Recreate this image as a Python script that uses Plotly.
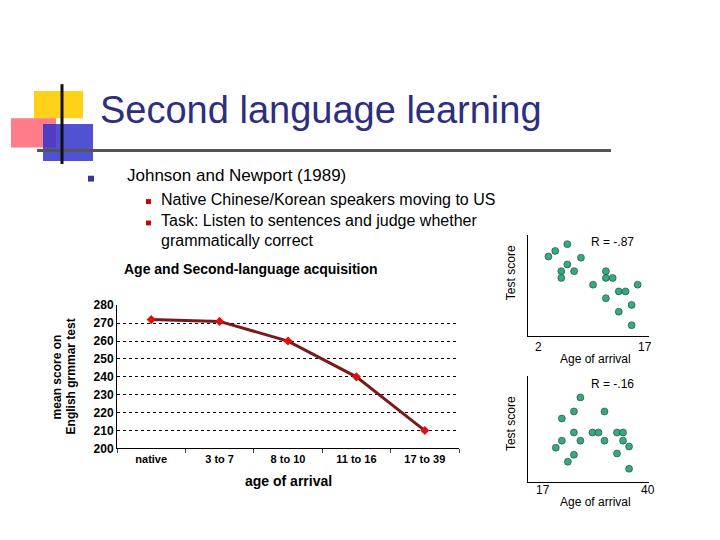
import plotly.graph_objects as go

W, H = 720, 540

# main chart data
groups = ["native", "3 to 7", "8 to 10", "11 to 16", "17 to 39"]
mean_scores = [272, 271, 260, 240, 210]

# scatter: arrivals 3-15
early_age = [3.7, 4.6, 6.2, 8.0, 5.4, 6.2, 7.1, 5.4, 9.6, 11.3, 11.3, 12.2, 11.3, 13.0, 13.9, 15.5, 14.7, 13.0, 14.7]
early_score = [81, 86, 92, 80, 68, 74, 68, 62, 56, 68, 62, 62, 44, 50, 50, 56, 38, 32, 20]

# scatter: arrivals 17-39
late_age = [25.2, 23.8, 21.2, 30.4, 33.1, 34.4, 34.4, 35.7, 30.4, 33.1, 35.7, 19.9, 21.2, 22.5, 23.8, 25.2, 27.8, 29.1, 23.8]
late_score = [82, 70, 64, 70, 52, 52, 45, 40, 45, 34, 21, 39, 45, 27, 33, 45, 52, 52, 52]

# the page puts the figure a little right and down, compensate
DX, DY = 7, 7


def px(x):
    return (x - DX) / W


def py(y):
    return 1 - (y - DY) / H


fig = go.Figure()

fig.add_trace(go.Scatter(
    x=groups, y=mean_scores, mode="lines+markers",
    line=dict(color="#7a1a1a", width=3),
    marker=dict(color="#e01010", size=7, symbol="diamond"),
    xaxis="x", yaxis="y", showlegend=False))

fig.add_trace(go.Scatter(
    x=early_age, y=early_score, mode="markers",
    marker=dict(color="#33aa80", size=7, line=dict(color="#222", width=0.5)),
    xaxis="x2", yaxis="y2", showlegend=False))

fig.add_trace(go.Scatter(
    x=late_age, y=late_score, mode="markers",
    marker=dict(color="#33aa80", size=7, line=dict(color="#222", width=0.5)),
    xaxis="x3", yaxis="y3", showlegend=False))

small_axis = dict(showgrid=False, zeroline=False, showticklabels=False, ticks="",
                  showline=True, linecolor="black", linewidth=1)

fig.update_layout(
    width=W, height=H, margin=dict(l=0, r=0, t=0, b=0),
    paper_bgcolor="white", plot_bgcolor="white",
    font=dict(family="Arial, Liberation Sans", color="black"),
    xaxis=dict(domain=[px(116), px(458)], anchor="y", showline=True, linecolor="black",
               ticks="outside", tickson="boundaries", ticklen=4, showgrid=False,
               tickfont=dict(size=11, weight="bold"), range=[-0.5, 4.5]),
    yaxis=dict(domain=[py(452), py(305)], anchor="x", range=[200, 280], dtick=10,
               showline=True, linecolor="black", gridcolor="black", griddash="dot",
               gridwidth=1, zeroline=False, tickfont=dict(size=12, weight="bold")),
    xaxis2=dict(domain=[px(527), px(648)], anchor="y2", range=[1, 17], **small_axis),
    yaxis2=dict(domain=[py(337), py(233)], anchor="x2", range=[10, 100], **small_axis),
    xaxis3=dict(domain=[px(527), px(648)], anchor="y3", range=[13.9, 40], **small_axis),
    yaxis3=dict(domain=[py(486), py(378)], anchor="x3", range=[10, 100], **small_axis),
)

# slide decoration
shapes = [
    dict(type="rect", x0=33, x1=82, y0=85, y1=113, fillcolor="#ffcc00", line_width=0, opacity=0.9),
    dict(type="rect", x0=10, x1=55, y0=113, y1=143, fillcolor="#ff5060", line_width=0, opacity=0.75),
    dict(type="rect", x0=42, x1=92, y0=119, y1=157, fillcolor="#3333cc", line_width=0, opacity=0.85),
    dict(type="line", x0=36, x1=610, y0=146, y1=146, line=dict(color="#555", width=3)),
    dict(type="line", x0=61, x1=61, y0=78, y1=160, line=dict(color="#111", width=3)),
    dict(type="rect", x0=87, x1=93, y0=172, y1=178, fillcolor="#3333aa", line_width=0),
    dict(type="rect", x0=145, x1=150, y0=196, y1=201, fillcolor="#cc0000", line_width=0),
    dict(type="rect", x0=145, x1=150, y0=218, y1=223, fillcolor="#cc0000", line_width=0),
]
for s in shapes:
    s.update(xref="paper", yref="paper")
    s["x0"], s["x1"] = px(s["x0"]), px(s["x1"])
    s["y0"], s["y1"] = py(s["y0"]), py(s["y1"])
fig.update_layout(shapes=shapes)


def note(x, y, text, size=14, anchor="left", angle=0, bold=False, color="black"):
    if bold:
        text = "<b>" + text + "</b>"
    fig.add_annotation(x=px(x), y=py(y), xref="paper", yref="paper", text=text, showarrow=False,
                       xanchor=anchor, yanchor="middle", textangle=angle,
                       font=dict(size=size, color=color, family="Arial, Liberation Sans"))


note(97, 105, "Second language learning", size=38, color="#2e2e80")
note(124, 172, "Johnson and Newport (1989)", size=17)
note(158, 196, "Native Chinese/Korean speakers moving to US", size=16)
note(158, 218, "Task: Listen to sentences and judge whether", size=16)
note(158, 239, "grammatically correct", size=16)
note(250, 268, "Age and Second-language acquisition", size=14, anchor="center", bold=True)
note(287, 485, "age of arrival", size=14, anchor="center", bold=True)
note(56, 378, "mean score on", size=12, anchor="center", angle=-90, bold=True)
note(70, 378, "English grmmar test", size=12, anchor="center", angle=-90, bold=True)

note(510, 272, "Test score", size=12, anchor="center", angle=-90)
note(588, 240, "R = -.87", size=12)
note(537, 348, "2", size=12, anchor="center")
note(644, 348, "17", size=12, anchor="center")
note(594, 360, "Age of arrival", size=12, anchor="center")

note(510, 427, "Test score", size=12, anchor="center", angle=-90)
note(588, 386, "R = -.16", size=12)
note(542, 495, "17", size=12, anchor="center")
note(647, 495, "40", size=12, anchor="center")
note(594, 507, "Age of arrival", size=12, anchor="center")

fig.write_html("out.html")
